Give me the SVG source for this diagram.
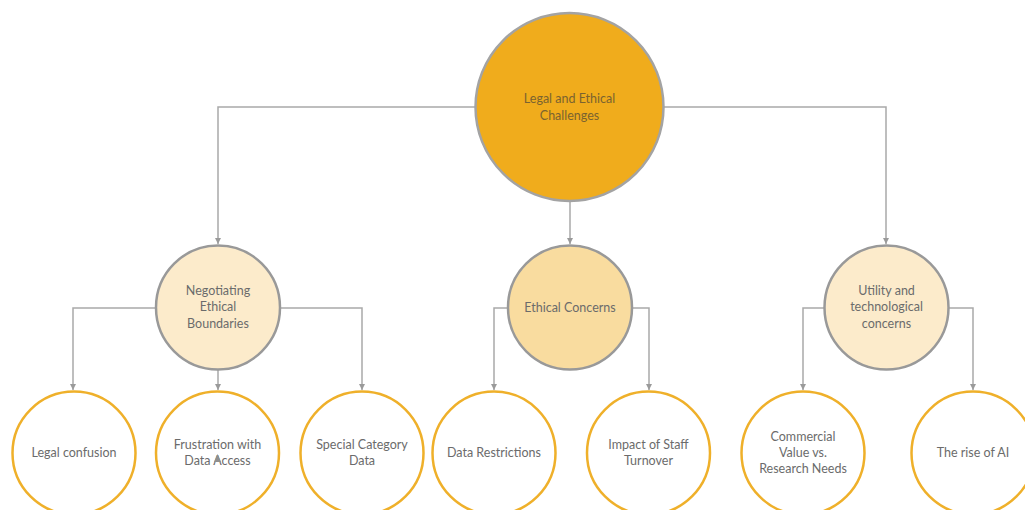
<svg xmlns="http://www.w3.org/2000/svg" width="1025" height="510" viewBox="0 0 1025 510">
  <style>
    .lbl { font-family: Lato, "Open Sans", "Liberation Sans", sans-serif; font-size: 12.5px; fill: #6b6b6b; text-anchor: middle; }
    .root-lbl { fill: #7a6330; }
    .conn { fill: none; stroke: #a9a9a9; stroke-width: 1.5; }
    .mid { stroke: #999999; stroke-width: 2.5; }
    .leaf { fill: #ffffff; stroke: #efb02a; stroke-width: 2.5; }
  </style>
  <defs>
    <marker id="arr" viewBox="0 0 10 10" refX="10" refY="5" markerWidth="6" markerHeight="6" markerUnits="userSpaceOnUse" orient="auto">
      <path d="M0,0 L10,5 L0,10 z" fill="#9a9a9a"/>
    </marker>
  </defs>
  <rect width="1025" height="510" fill="#ffffff"/>

  <g id="connectors">
    <!-- root to second level -->
    <path class="conn" d="M475,107 H218 V244" marker-end="url(#arr)"/>
    <path class="conn" d="M570,201 V244" marker-end="url(#arr)"/>
    <path class="conn" d="M664,107 H886 V244" marker-end="url(#arr)"/>
    <!-- Negotiating Ethical Boundaries -->
    <path class="conn" d="M156,308 H73 V390" marker-end="url(#arr)"/>
    <path class="conn" d="M218,370 V390" marker-end="url(#arr)"/>
    <path class="conn" d="M280,308 H362 V390" marker-end="url(#arr)"/>
    <!-- Ethical Concerns -->
    <path class="conn" d="M508,308 H494 V390" marker-end="url(#arr)"/>
    <path class="conn" d="M632,308 H649 V390" marker-end="url(#arr)"/>
    <!-- Utility and technological concerns -->
    <path class="conn" d="M824,308 H803 V390" marker-end="url(#arr)"/>
    <path class="conn" d="M949,308 H973 V390" marker-end="url(#arr)"/>
  </g>

  <g id="root">
    <circle cx="569.5" cy="107" r="94" fill="#f0ac1c" stroke="#a3a3a3" stroke-width="2.5"/>
    <text class="lbl root-lbl" x="569.5" y="103">Legal and Ethical</text>
    <text class="lbl root-lbl" x="569.5" y="120">Challenges</text>
  </g>

  <g id="negotiating">
    <circle class="mid" cx="218" cy="307.5" r="62" fill="#fcebcb"/>
    <text class="lbl" x="218" y="295">Negotiating</text>
    <text class="lbl" x="218" y="311">Ethical</text>
    <text class="lbl" x="218" y="328">Boundaries</text>
  </g>

  <g id="ethical-concerns">
    <circle class="mid" cx="570" cy="307.5" r="62" fill="#f9dc9f"/>
    <text class="lbl" x="570" y="312">Ethical Concerns</text>
  </g>

  <g id="utility">
    <circle class="mid" cx="886.5" cy="307.5" r="62" fill="#fcebcb"/>
    <text class="lbl" x="886.5" y="295">Utility and</text>
    <text class="lbl" x="886.5" y="311">technological</text>
    <text class="lbl" x="886.5" y="328">concerns</text>
  </g>

  <g id="legal-confusion">
    <circle class="leaf" cx="74" cy="453" r="61.5"/>
    <text class="lbl" x="74" y="457">Legal confusion</text>
  </g>

  <g id="frustration">
    <circle class="leaf" cx="217.5" cy="453" r="61.5"/>
    <text class="lbl" x="217.5" y="449">Frustration with</text>
    <text class="lbl" x="217.5" y="465">Data Access</text>
    <path d="M214,462 L217.5,454 L221,462 z" fill="#8f8f8f"/>
  </g>

  <g id="special-category">
    <circle class="leaf" cx="362" cy="453" r="61.5"/>
    <text class="lbl" x="362" y="449">Special Category</text>
    <text class="lbl" x="362" y="465">Data</text>
  </g>

  <g id="data-restrictions">
    <circle class="leaf" cx="494" cy="453" r="61.5"/>
    <text class="lbl" x="494" y="457">Data Restrictions</text>
  </g>

  <g id="staff-turnover">
    <circle class="leaf" cx="648.5" cy="453" r="61.5"/>
    <text class="lbl" x="648.5" y="449">Impact of Staff</text>
    <text class="lbl" x="648.5" y="465">Turnover</text>
  </g>

  <g id="commercial-value">
    <circle class="leaf" cx="803" cy="453" r="61.5"/>
    <text class="lbl" x="803" y="441">Commercial</text>
    <text class="lbl" x="803" y="457">Value vs.</text>
    <text class="lbl" x="803" y="473">Research Needs</text>
  </g>

  <g id="rise-of-ai">
    <circle class="leaf" cx="973" cy="453" r="61.5"/>
    <text class="lbl" x="973" y="457">The rise of AI</text>
  </g>
</svg>
